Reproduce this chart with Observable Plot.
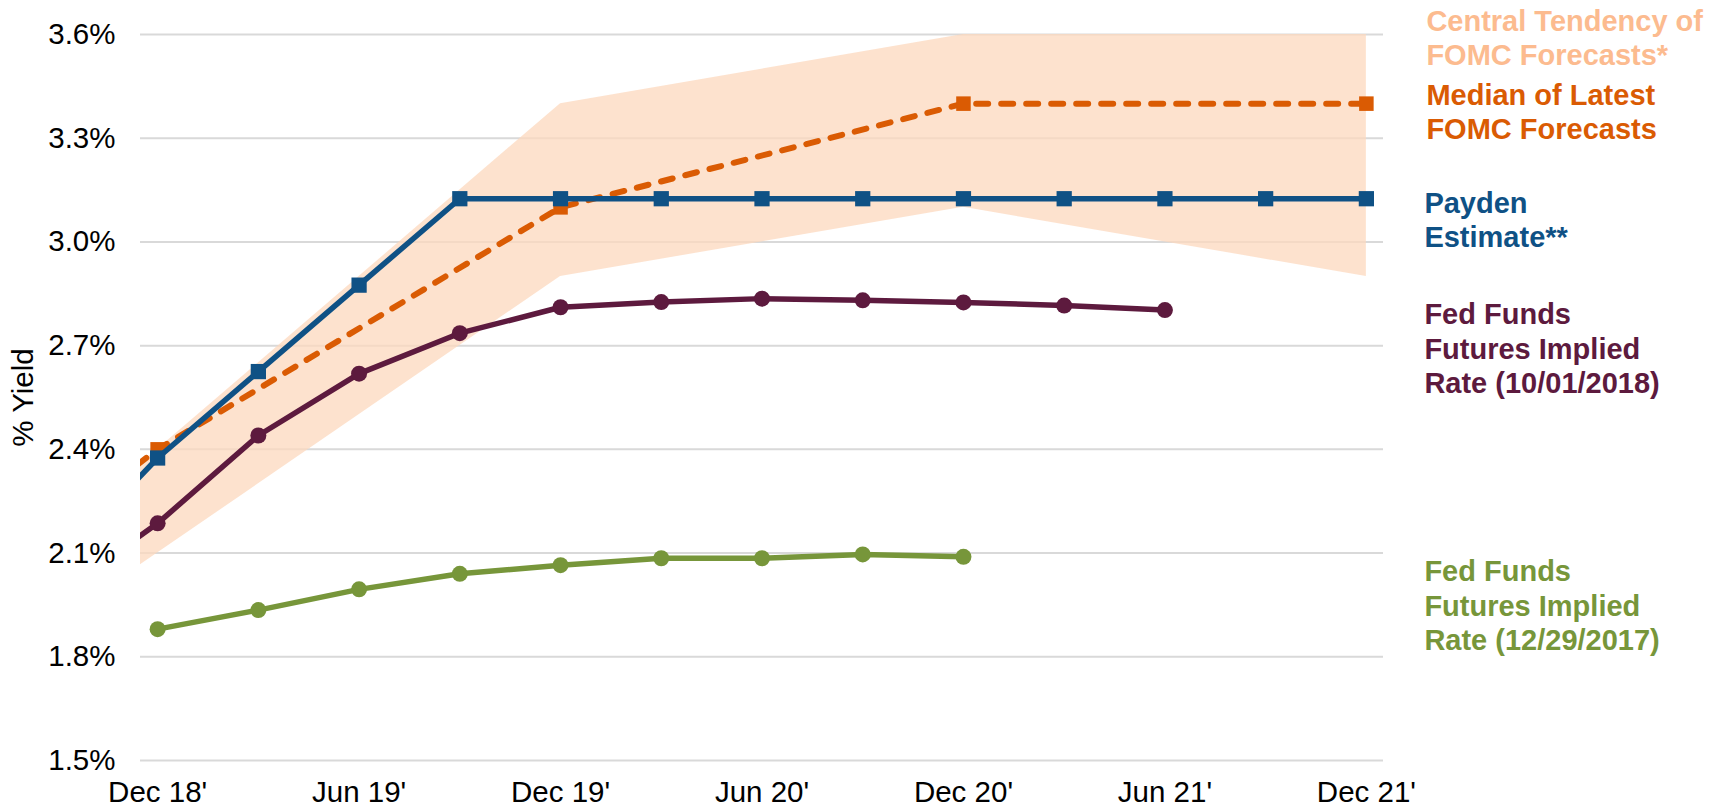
<!DOCTYPE html>
<html>
<head>
<meta charset="utf-8">
<script src="https://cdn.jsdelivr.net/npm/d3@7"></script>
<script src="https://cdn.jsdelivr.net/npm/@observablehq/plot@0.6"></script>
<style>
  html, body { margin: 0; padding: 0; background: #fff; }
  #chart { width: 1727px; height: 811px; overflow: hidden; }
</style>
</head>
<body>
<div id="chart"></div>
<script>
// ---- Data ----
const quarters = ["Sep 18","Dec 18","Mar 19","Jun 19","Sep 19","Dec 19","Mar 20","Jun 20","Sep 20","Dec 20","Mar 21","Jun 21","Sep 21","Dec 21"];
const payden     = [2.07, 2.375, 2.625, 2.875, 3.125, 3.125, 3.125, 3.125, 3.125, 3.125, 3.125, 3.125, 3.125, 3.125];
const ffOct2018  = [1.98, 2.186, 2.44, 2.619, 2.736, 2.811, 2.826, 2.836, 2.831, 2.825, 2.816, 2.803, null, null];
const ffDec2017  = [null, 1.880, 1.935, 1.995, 2.040, 2.065, 2.085, 2.085, 2.096, 2.089, null, null, null, null];
const fomcMedian = [2.18, 2.4, null, null, null, 3.1, null, null, null, 3.4, null, null, null, 3.4];
const ctLow      = [1.9, 2.1, null, null, null, 2.9, null, null, null, 3.1, null, null, null, 2.9];
const ctHigh     = [2.15, 2.4, null, null, null, 3.4, null, null, null, 3.6, null, null, null, 3.6];

const yTicks = [1.5, 1.8, 2.1, 2.4, 2.7, 3.0, 3.3, 3.6];
const xTickLabels = ["Dec 18'", "Jun 19'", "Dec 19'", "Jun 20'", "Dec 20'", "Jun 21'", "Dec 21'"];
const xTickQuarters = ["Dec 18", "Jun 19", "Dec 19", "Jun 20", "Dec 20", "Jun 21", "Dec 21"];

const seriesLabels = [
  "Central Tendency of\nFOMC Forecasts*",
  "Median of Latest\nFOMC Forecasts",
  "Payden\nEstimate**",
  "Fed Funds\nFutures Implied\nRate (10/01/2018)",
  "Fed Funds\nFutures Implied\nRate (12/29/2017)"
];
const seriesLabelAt = [3.592, 3.378, 3.066, 2.694, 1.951];

// ---- Styles ----
const FONT = "'Liberation Sans', Arial, Helvetica, sans-serif";
const C_BAND = "#FCD8BE", C_BAND_TXT = "#FCBB8F", C_MED = "#DA5B03",
      C_BLUE = "#0F5185", C_PURPLE = "#5D1A3E", C_GREEN = "#77963A";
const labelColors = [C_BAND_TXT, C_MED, C_BLUE, C_PURPLE, C_GREEN];
const labelDx = [60, 60, 58, 58, 58];

// ---- Build tables ----
const idx = q => quarters.indexOf(q) - 1; // Dec 18 = 0
const rows = arr => quarters.map((q, i) => ({q: idx(q), v: arr[i]})).filter(d => d.v != null);
const bandRows = quarters.map((q, i) => ({q: idx(q), lo: ctLow[i], hi: ctHigh[i]})).filter(d => d.lo != null);
const visible = d => d.q >= 0;
const lastQ = idx("Dec 21");
const xTickPos = xTickQuarters.map(idx);

const marks = [
  Plot.gridY(yTicks, {stroke: "#D9D9D9", strokeOpacity: 1, strokeWidth: 2}),
  Plot.areaY(bandRows, {x: "q", y1: "lo", y2: "hi", fill: C_BAND, fillOpacity: 0.75, clip: true}),
  Plot.axisY(yTicks, {tickSize: 0, tickPadding: 25, tickFormat: d => d.toFixed(1) + "%",
    label: "% Yield", labelAnchor: "center", labelOffset: 128, labelArrow: "none"}),
  Plot.axisX(xTickPos, {tickSize: 0, tickPadding: 21,
    tickFormat: d => xTickLabels[xTickPos.indexOf(d)], label: null}),
  // Fed funds futures 12/29/2017
  Plot.line(rows(ffDec2017), {x: "q", y: "v", stroke: C_GREEN, strokeWidth: 5.5, clip: true}),
  Plot.dot(rows(ffDec2017).filter(visible), {x: "q", y: "v", r: 8, fill: C_GREEN, stroke: null}),
  // Fed funds futures 10/01/2018
  Plot.line(rows(ffOct2018), {x: "q", y: "v", stroke: C_PURPLE, strokeWidth: 5.5, clip: true}),
  Plot.dot(rows(ffOct2018).filter(visible), {x: "q", y: "v", r: 8, fill: C_PURPLE, stroke: null}),
  // FOMC median
  Plot.line(rows(fomcMedian), {x: "q", y: "v", stroke: C_MED, strokeWidth: 6,
    strokeDasharray: "12,13", strokeLinecap: "round", clip: true}),
  Plot.dot(rows(fomcMedian).filter(visible), {x: "q", y: "v", symbol: "square", r: 8.2, fill: C_MED, stroke: null}),
  // Payden
  Plot.line(rows(payden), {x: "q", y: "v", stroke: C_BLUE, strokeWidth: 5.5, clip: true}),
  Plot.dot(rows(payden).filter(visible), {x: "q", y: "v", symbol: "square", r: 8.6, fill: C_BLUE, stroke: null}),
];

seriesLabels.forEach((t, i) => {
  marks.push(Plot.text([t], {x: () => lastQ, y: () => seriesLabelAt[i], text: d => d,
    dx: labelDx[i], textAnchor: "start", lineAnchor: "middle", lineHeight: 1.18,
    fill: labelColors[i], fontWeight: "bold", fontSize: 29}));
});

const chart = Plot.plot({
  width: 1727,
  height: 811,
  marginLeft: 140,
  marginRight: 344,
  marginTop: 34,
  marginBottom: 51,
  style: {fontFamily: FONT, fontSize: "29.5px", color: "#000", background: "#fff", overflow: "visible"},
  x: {domain: [-0.17, 12.17]},
  y: {domain: [1.5, 3.6]},
  marks
});
document.getElementById("chart").appendChild(chart);
</script>
</body>
</html>
